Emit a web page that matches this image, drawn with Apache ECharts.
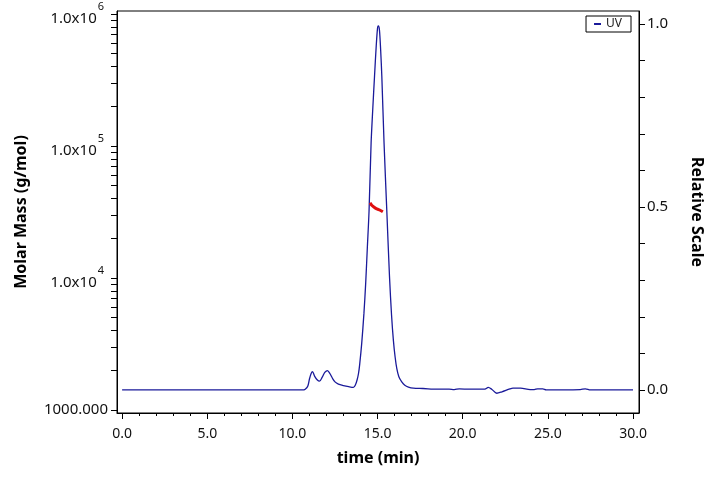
<!DOCTYPE html>
<html>
<head>
<meta charset="utf-8">
<script src="https://cdn.jsdelivr.net/npm/echarts@6/dist/echarts.min.js"></script>
<style>
  html, body { margin: 0; padding: 0; background: #fff; }
  #chart { width: 720px; height: 479px; }
</style>
</head>
<body>
<div id="chart"></div>
<script>
// UV trace (relative scale, right axis)
var uvTime = [0, 2, 4, 6, 8, 10, 10.6, 10.75, 10.9, 11.0, 11.1, 11.18, 11.3, 11.45, 11.59, 11.75, 11.9, 12.06, 12.2, 12.35, 12.5, 12.7, 13.0, 13.3, 13.58,
  13.7, 13.8, 13.88, 13.95, 14.07, 14.2, 14.3, 14.4, 14.5, 14.62, 14.72, 14.82, 14.92, 15.0, 15.05, 15.11, 15.18, 15.25, 15.38, 15.54, 15.7, 15.82, 15.93, 16.03, 16.13, 16.25, 16.42, 16.6, 16.81, 17.1, 17.67,
  18.5, 19.2, 19.5, 19.8, 20.4, 21.0, 21.3, 21.5, 21.7, 22.0, 22.3, 22.77, 22.95, 23.4, 23.96, 24.2, 24.4, 24.7, 24.9, 26.0, 26.9, 27.2, 27.5, 28.5, 30.0];
var uvValue = [0, 0, 0, 0, 0, 0, 0, 0.002, 0.01, 0.03, 0.045, 0.05, 0.038, 0.028, 0.024, 0.035, 0.048, 0.053, 0.045, 0.032, 0.022, 0.016, 0.012, 0.009, 0.007,
  0.014, 0.028, 0.045, 0.07, 0.128, 0.21, 0.29, 0.39, 0.49, 0.675, 0.77, 0.857, 0.94, 0.99, 0.995, 0.984, 0.93, 0.857, 0.675, 0.492, 0.31, 0.205, 0.135, 0.09, 0.058, 0.036, 0.022, 0.013, 0.008, 0.005, 0.004,
  0.002, 0.002, 0.001, 0.003, 0.002, 0.002, 0.002, 0.007, 0.002, -0.009, -0.005, 0.003, 0.005, 0.005, 0.001, 0.001, 0.003, 0.003, 0, 0, 0.001, 0.003, 0, 0, 0];

// Molar mass (g/mol, left log axis)
var mmTime = [14.56, 14.62, 14.66, 14.8, 14.96, 15.15, 15.31];
var mmValue = [37150, 36200, 35560, 34300, 33350, 32600, 31770];

var xLabels = [0, 5, 10, 15, 20, 25, 30];
var xMinorTicks = [];
for (var i = 0; i <= 30; i++) xMinorTicks.push(i);
var massLabels = [1000, 10000, 100000, 1000000];
var massTicks = [1000, 2000, 3000, 4000, 5000, 6000, 7000, 8000, 9000,
  10000, 20000, 30000, 40000, 50000, 60000, 70000, 80000, 90000,
  100000, 200000, 300000, 400000, 500000, 600000, 700000, 800000, 900000, 1000000];
var relLabels = [0, 0.5, 1];
var relTicks = [0, 0.1, 0.2, 0.3, 0.4, 0.5, 0.6, 0.7, 0.8, 0.9, 1.0];

var FONT = 'Noto Sans';

var chart = echarts.init(document.getElementById('chart'));

var uvData = uvTime.map(function (t, i) { return [t, uvValue[i]]; });
var mmData = mmTime.map(function (t, i) { return [t, mmValue[i]]; });

var option = {
  backgroundColor: '#fff',
  animation: false,
  grid: {
    left: 117, right: 81, top: 11, bottom: 66,
    show: true, borderColor: '#000', borderWidth: 1, backgroundColor: 'transparent'
  },
  legend: {
    data: ['UV'],
    right: 89, top: 16,
    borderColor: '#000', borderWidth: 1,
    padding: [2, 9, 2, 8],
    icon: 'rect', itemWidth: 7, itemHeight: 2,
    textStyle: { fontFamily: FONT, fontSize: 12, color: '#222' }
  },
  xAxis: [{
    type: 'value', min: -0.3, max: 30.35,
    name: 'time (min)', nameLocation: 'middle', nameGap: 37,
    nameTextStyle: { fontFamily: FONT, fontSize: 16, fontWeight: 'bold', color: '#000' },
    axisLine: { onZero: false, lineStyle: { color: '#000', width: 1 } },
    axisTick: { customValues: xLabels, length: 6, lineStyle: { color: '#000' } },
    axisLabel: { customValues: xLabels, margin: 14, fontFamily: FONT, fontSize: 14, color: '#111',
      formatter: function (v) { return v.toFixed(1); } },
    splitLine: { show: false }
  }, {
    type: 'value', min: -0.3, max: 30.35, position: 'bottom',
    axisLine: { show: false, onZero: false },
    axisTick: { customValues: xMinorTicks, length: 3, lineStyle: { color: '#000' } },
    axisLabel: { show: false },
    splitLine: { show: false }
  }],
  yAxis: [{
    type: 'log', logBase: 10, min: 949, max: 1053700, position: 'left',
    name: 'Molar Mass (g/mol)', nameLocation: 'middle', nameGap: 88,
    nameTextStyle: { fontFamily: FONT, fontSize: 16, fontWeight: 'bold', color: '#000' },
    axisLine: { show: true, onZero: false, lineStyle: { color: '#000', width: 1 } },
    axisTick: { customValues: massTicks, length: 6, lineStyle: { color: '#000' } },
    axisLabel: {
      customValues: massLabels, margin: 9, color: '#111',
      formatter: function (v) {
        var e = Math.round(Math.log10(v));
        if (e === 3) return '{b|1000.000}';
        return '{b|1.0x10}{s|' + e + '}';
      },
      rich: {
        b: { fontFamily: FONT, fontSize: 15, color: '#111', verticalAlign: 'bottom' },
        s: { fontFamily: FONT, fontSize: 11, color: '#111', verticalAlign: 'bottom', padding: [0, 4, 14, 1] }
      }
    },
    splitLine: { show: false }
  }, {
    type: 'value', min: -0.063, max: 1.036, position: 'right',
    name: 'Relative Scale', nameLocation: 'middle', nameGap: 50, nameRotate: -90,
    nameTextStyle: { fontFamily: FONT, fontSize: 16, fontWeight: 'bold', color: '#000' },
    axisLine: { show: true, onZero: false, lineStyle: { color: '#000', width: 1 } },
    axisTick: { customValues: relTicks, length: 6, lineStyle: { color: '#000' } },
    axisLabel: { customValues: relLabels, margin: 8, fontFamily: FONT, fontSize: 15, color: '#111',
      formatter: function (v) { return v.toFixed(1); } },
    splitLine: { show: false }
  }],
  series: [{
    name: 'UV', type: 'line', xAxisIndex: 0, yAxisIndex: 1,
    data: uvData, showSymbol: false, smooth: 0.3,
    lineStyle: { color: '#1a1a9a', width: 1.3 },
    itemStyle: { color: '#1a1a9a' }
  }, {
    name: 'Molar Mass', type: 'line', xAxisIndex: 0, yAxisIndex: 0,
    data: mmData, showSymbol: false, smooth: true,
    lineStyle: { color: '#e01010', width: 3 },
    itemStyle: { color: '#e01010' }
  }]
};

chart.setOption(option);
</script>
</body>
</html>
